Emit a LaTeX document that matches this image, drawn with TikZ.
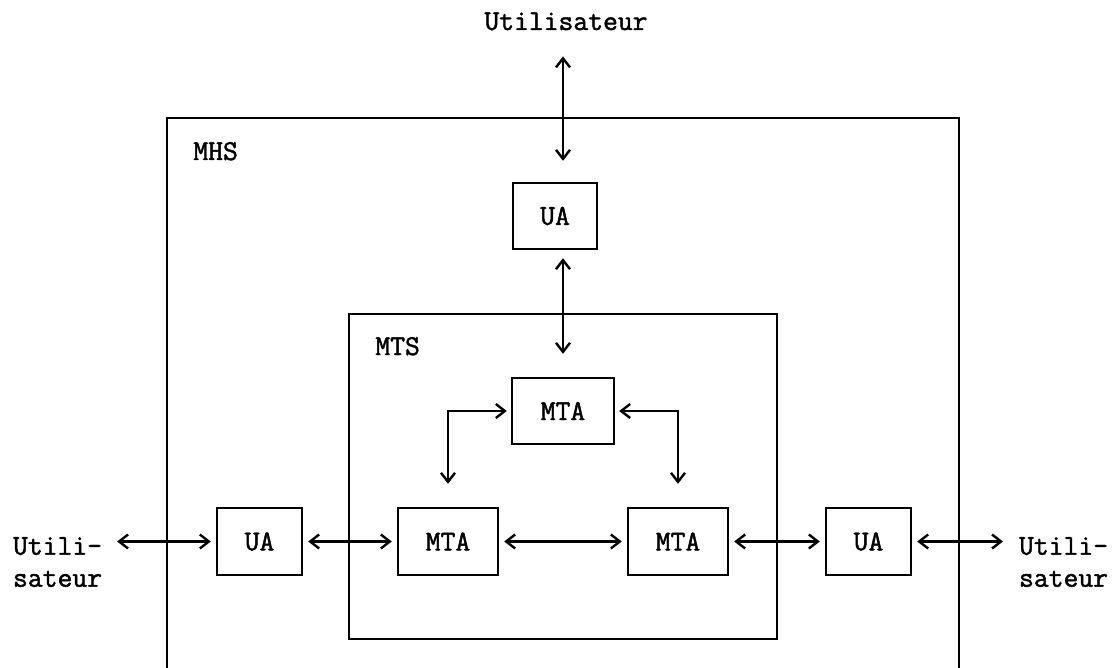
\documentclass[tikz,border=0pt]{standalone}
\usepackage{fontspec}
\setmonofont{Latin Modern Mono}[BoldFont={Latin Modern Mono}, BoldFeatures={FakeBold=1.6}]
\usetikzlibrary{arrows.meta}

\tikzset{
  txt/.style={font=\ttfamily\bfseries\fontsize{14.4}{16}\selectfont},
  box/.style={txt, draw, line width=1.2pt, inner sep=0pt, minimum height=33.5pt},
  frame/.style={line width=1.2pt},
  link/.style={{Straight Barb[length=4.5pt,width=7pt]}-{Straight Barb[length=4.5pt,width=7pt]},
    line width=1.2pt, shorten <=2.5pt, shorten >=2.5pt},
}

\begin{document}
\begin{tikzpicture}[x=0.5pt,y=-0.5pt]
  \useasboundingbox (0,0) rectangle (1119,668);

  \draw[frame] (167,668) |- (959,118) -- (959,668);
  \node[frame, draw, minimum width=214pt, minimum height=162.5pt] (mtsbox) at (563,476.5) {};
  \node[txt, anchor=base west, inner sep=0pt] (mhs) at (193,160) {MHS};
  \node[txt, anchor=base west, inner sep=0pt] (mts) at (375,355) {MTS};

  \node[box, minimum width=42pt, minimum height=33pt] (uatop) at (555,216) {UA};
  \node[box, minimum width=51pt, minimum height=33pt] (mtatop) at (563,411) {MTA};
  \node[box, minimum width=42.5pt] (ualeft) at (259.5,541.5) {UA};
  \node[box, minimum width=50pt] (mtaleft) at (448,541.5) {MTA};
  \node[box, minimum width=50pt] (mtaright) at (678,541.5) {MTA};
  \node[box, minimum width=42.5pt] (uaright) at (868.5,541.5) {UA};

  \node[txt, anchor=base] (usertop) at (566,30) {Utilisateur};
  \node[txt, align=left, anchor=west] (userleft) at (6,562) {Utili-\\sateur};
  \node[txt, align=left, anchor=west] (userright) at (1012,562) {Utili-\\sateur};

  \draw[link, shorten <=9.5pt, shorten >=10.5pt] (usertop.south -| mtatop) -- (uatop.north -| mtatop);
  \draw[link, shorten <=4pt, shorten >=11.5pt] (uatop.south -| mtatop) -- (mtatop.north);
  \draw[link, shorten <=2pt, shorten >=11.5pt] (mtatop.west) -| (mtaleft.north);
  \draw[link, shorten <=2pt, shorten >=11.5pt] (mtatop.east) -| (mtaright.north);
  \draw[link, shorten <=4pt] (ualeft.west -| userleft.east) -- (ualeft.west);
  \draw[link] (ualeft) -- (mtaleft);
  \draw[link] (mtaleft) -- (mtaright);
  \draw[link] (mtaright) -- (uaright);
  \draw[link, shorten >=4.5pt] (uaright.east) -- (uaright.east -| userright.west);
\end{tikzpicture}
\end{document}
